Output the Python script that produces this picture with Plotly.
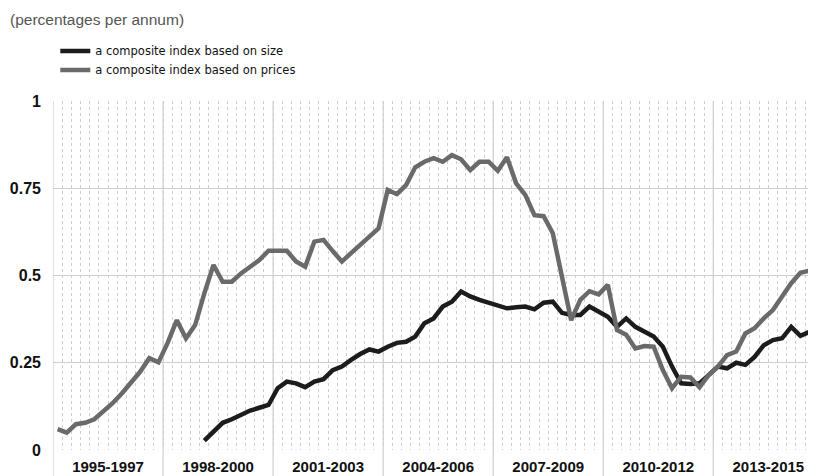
import plotly.graph_objects as go

# Quarterly data, 1995Q1 .. 2015Q4 (index 0 = 1995Q1)
period_labels = ["1995-1997", "1998-2000", "2001-2003", "2004-2006",
                 "2007-2009", "2010-2012", "2013-2015"]

prices = [0.06, 0.05, 0.074, 0.078, 0.088, 0.11, 0.134, 0.162, 0.193, 0.224,
          0.263, 0.251, 0.307, 0.372, 0.32, 0.358, 0.449, 0.53, 0.482, 0.482,
          0.506, 0.525, 0.544, 0.571, 0.571, 0.571, 0.54, 0.525, 0.597, 0.602,
          0.57, 0.54, 0.564, 0.587, 0.611, 0.635, 0.745, 0.733, 0.759, 0.81,
          0.826, 0.836, 0.826, 0.845, 0.833, 0.802, 0.826, 0.826, 0.80, 0.839,
          0.764, 0.731, 0.673, 0.67, 0.621, 0.497, 0.372, 0.43, 0.455, 0.446,
          0.473, 0.344, 0.33, 0.291, 0.298, 0.296, 0.229, 0.177, 0.21, 0.208,
          0.18, 0.215, 0.239, 0.272, 0.282, 0.334, 0.349, 0.377, 0.401, 0.44,
          0.478, 0.508, 0.514, 0.505]

size_start = 16  # first quarter with data for the size-based index (1999Q1)
size = [0.027, 0.052, 0.078, 0.088, 0.10, 0.113, 0.121, 0.129, 0.177, 0.196,
        0.191, 0.18, 0.196, 0.203, 0.229, 0.239, 0.258, 0.275, 0.288, 0.282,
        0.296, 0.307, 0.31, 0.325, 0.363, 0.377, 0.411, 0.425, 0.454, 0.44,
        0.43, 0.422, 0.415, 0.406, 0.409, 0.411, 0.403, 0.422, 0.425, 0.393,
        0.387, 0.387, 0.411, 0.396, 0.382, 0.353, 0.377, 0.353, 0.339, 0.325,
        0.296, 0.239, 0.191, 0.189, 0.191, 0.215, 0.239, 0.234, 0.25, 0.244,
        0.267, 0.30, 0.315, 0.32, 0.353, 0.327, 0.339]

y_ticks = [0, 0.25, 0.5, 0.75, 1]
y_tick_text = ["0", "0.25", "0.5", "0.75", "1"]

x_prices = [i + 0.5 for i in range(len(prices))]
x_size = [size_start + i + 0.5 for i in range(len(size))]

fig = go.Figure()
fig.add_trace(go.Scatter(x=x_size, y=size, mode="lines",
                         name="a composite index based on size",
                         line=dict(color="#1c1c1c", width=4.5)))
fig.add_trace(go.Scatter(x=x_prices, y=prices, mode="lines",
                         name="a composite index based on prices",
                         line=dict(color="#6a6a6a", width=4.5)))

grid = "#cfcfcf"
group_len = 12
n_groups = len(period_labels)

# group separators (solid, extending into the label area)
for g in range(n_groups + 1):
    fig.add_shape(type="line", xref="x", yref="paper",
                  x0=g * group_len, x1=g * group_len, y0=-0.08, y1=1,
                  line=dict(color=grid, width=1.2), layer="below")

# page body has an 8px margin, so the figure is 808x468 drawn at (8, 8)
fig.update_layout(
    width=808, height=468,
    margin=dict(l=45, r=0, t=93, b=26, autoexpand=False),
    paper_bgcolor="white", plot_bgcolor="white",
    font=dict(family="Liberation Sans, Arial, sans-serif", color="#222"),
    showlegend=True,
    legend=dict(x=0.003, y=1.185, xanchor="left", yanchor="top",
                font=dict(size=11.5, color="#111",
                          family="DejaVu Sans, sans-serif"),
                itemwidth=30, traceorder="normal",
                bgcolor="rgba(0,0,0,0)", tracegroupgap=0),
    xaxis=dict(range=[0, 83.2], showgrid=False, zeroline=False,
               tickvals=[g * group_len + group_len / 2 for g in range(n_groups)],
               ticktext=period_labels, ticks="", ticklabelstandoff=6,
               tickfont=dict(size=15, color="#111", weight="bold"),
               showline=False,
               minor=dict(dtick=1, tick0=0, showgrid=True, gridcolor=grid,
                          griddash="dot", gridwidth=1)),
    yaxis=dict(range=[0, 1], tickvals=y_ticks, ticktext=y_tick_text,
               showgrid=True, gridcolor=grid, gridwidth=1.2,
               zeroline=False, ticks="", ticklabelstandoff=11,
               tickfont=dict(size=16, color="#111", weight="bold"),
               showline=False),
    annotations=[dict(text="(percentages per annum)", xref="paper", yref="paper",
                      x=(0 - 45) / 763, y=(442 - 1) / 349, xanchor="left",
                      yanchor="top", showarrow=False,
                      font=dict(size=15.5, color="#555"))],
)

fig.write_html("out.html")
